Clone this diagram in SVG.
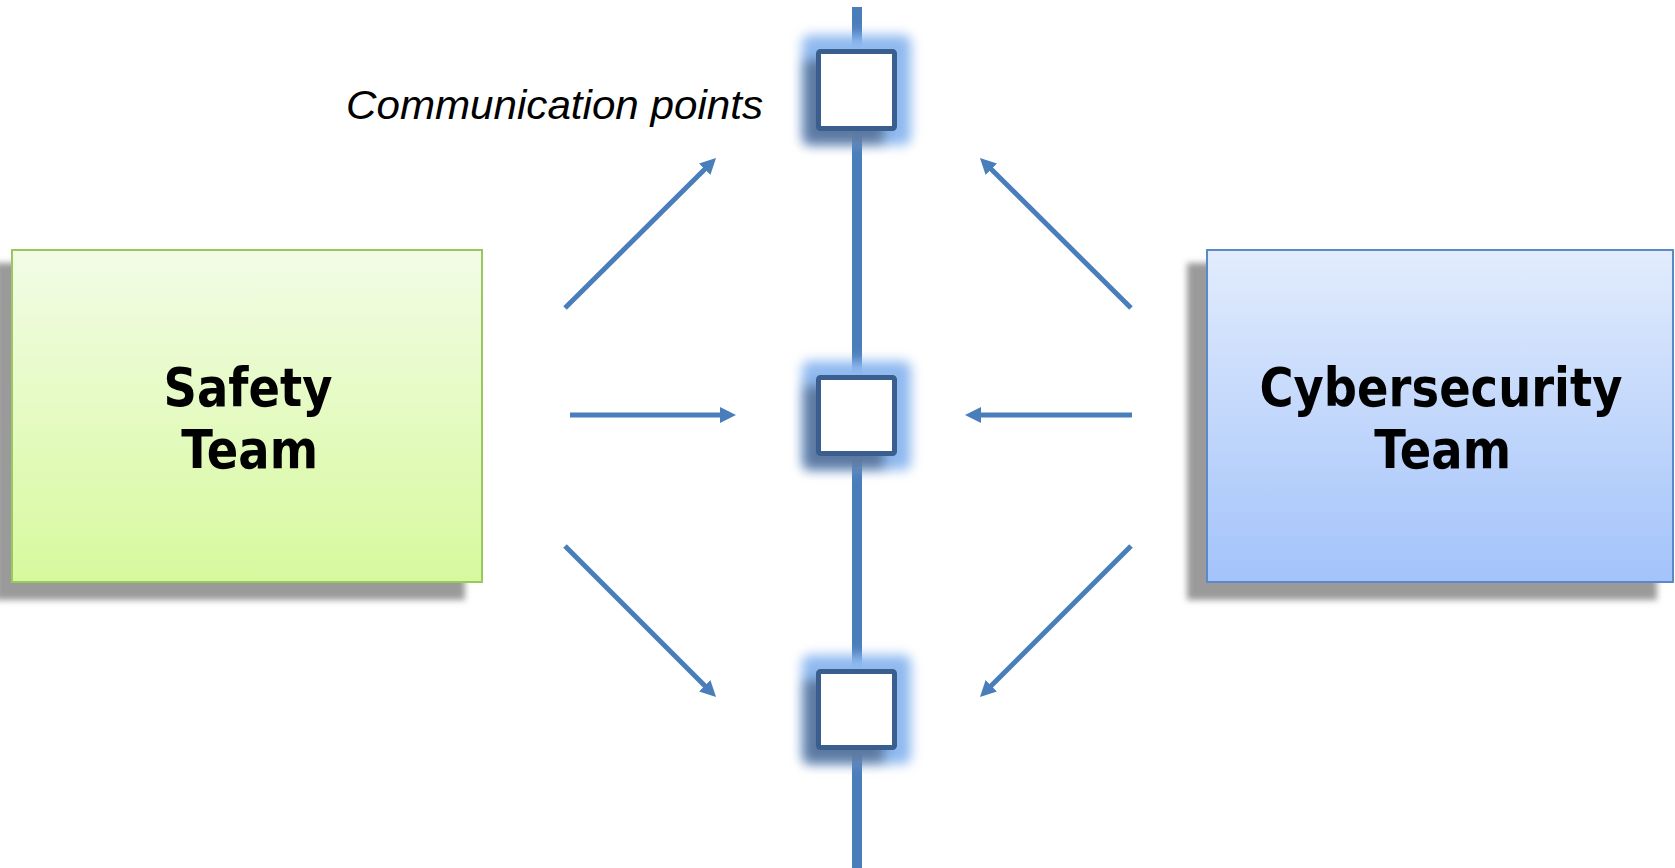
<svg xmlns="http://www.w3.org/2000/svg" width="1675" height="868" viewBox="0 0 1675 868">
  <defs>
    <linearGradient id="gradSafety" x1="0" y1="0" x2="0" y2="1">
      <stop offset="0" stop-color="#f2fce6"/>
      <stop offset="1" stop-color="#d7f99d"/>
    </linearGradient>
    <linearGradient id="gradCyber" x1="0" y1="0" x2="0" y2="1">
      <stop offset="0" stop-color="#e2ecfd"/>
      <stop offset="1" stop-color="#a3c3fa"/>
    </linearGradient>
    <filter id="softShadow" x="-10%" y="-10%" width="120%" height="120%">
      <feGaussianBlur stdDeviation="3"/>
    </filter>
    <filter id="glowBlur" x="-50%" y="-50%" width="200%" height="200%">
      <feGaussianBlur stdDeviation="6"/>
    </filter>
    <marker id="arrowHead" markerUnits="userSpaceOnUse" markerWidth="16" markerHeight="16" refX="10" refY="8" orient="auto">
      <path d="M0,0 L16,8 L0,16 Z" fill="#4a7ebb"/>
    </marker>
    <style>
      .team-shadow { fill: #9a9a9a; filter: url(#softShadow); }
      .team-label { font-family: "DejaVu Sans", Verdana, sans-serif; font-weight: bold; font-size: 54px; fill: #000; text-anchor: middle; }
      .note { font-family: "Liberation Sans", Arial, sans-serif; font-style: italic; font-size: 41px; fill: #000; }
      .arrow { stroke: #4a7ebb; stroke-width: 5; fill: none; marker-end: url(#arrowHead); }
      .timeline { stroke: #4a7ebb; stroke-width: 10; }
      .cp-glow { fill: #8fb9f0; filter: url(#glowBlur); }
      .cp-shadow { fill: #1a2a40; opacity: 0.45; filter: url(#glowBlur); }
      .cp-box { fill: #fff; stroke: #3a5f8e; stroke-width: 5; }
    </style>
  </defs>

  <rect width="1675" height="868" fill="#fff"/>

  <!-- Safety team -->
  <g id="safety-team">
    <rect class="team-shadow" x="-5" y="263" width="470" height="337"/>
    <rect x="12" y="250" width="470" height="332" fill="url(#gradSafety)" stroke="#9bc85e" stroke-width="2"/>
    <g transform="translate(248 0) scale(0.86 1)">
      <text class="team-label" x="0" y="406">Safety</text>
      <text class="team-label" x="2" y="468">Team</text>
    </g>
  </g>

  <!-- Cybersecurity team -->
  <g id="cybersecurity-team">
    <rect class="team-shadow" x="1187" y="263" width="470" height="337"/>
    <rect x="1207" y="250" width="466" height="332" fill="url(#gradCyber)" stroke="#5a88c8" stroke-width="2"/>
    <g transform="translate(1441 0) scale(0.86 1)">
      <text class="team-label" x="0" y="406">Cybersecurity</text>
      <text class="team-label" x="2" y="468">Team</text>
    </g>
  </g>

  <!-- Shared timeline -->
  <g id="timeline">
    <line class="timeline" x1="857" y1="7" x2="857" y2="868"/>
  </g>

  <!-- Communication points -->
  <g id="comm-point-1">
    <rect class="cp-glow" x="802" y="35" width="109" height="110" rx="8"/>
    <rect class="cp-shadow" x="804" y="60" width="80" height="84"/>
    <rect class="cp-box" x="818.5" y="51.5" width="76" height="77" rx="2"/>
  </g>
  <g id="comm-point-2">
    <rect class="cp-glow" x="802" y="361" width="109" height="109" rx="8"/>
    <rect class="cp-shadow" x="804" y="386" width="80" height="83"/>
    <rect class="cp-box" x="818.5" y="377.5" width="76" height="76" rx="2"/>
  </g>
  <g id="comm-point-3">
    <rect class="cp-glow" x="802" y="655" width="109" height="109" rx="8"/>
    <rect class="cp-shadow" x="804" y="680" width="80" height="83"/>
    <rect class="cp-box" x="818.5" y="671.5" width="76" height="76" rx="2"/>
  </g>

  <g id="comm-label">
    <text class="note" x="346" y="119" textLength="417" lengthAdjust="spacingAndGlyphs">Communication points</text>
  </g>

  <!-- Connectors -->
  <g id="connectors">
    <line class="arrow" x1="565" y1="308" x2="711.8" y2="162.2"/>
    <line class="arrow" x1="1131" y1="308" x2="984.2" y2="162.2"/>
    <line class="arrow" x1="570" y1="415" x2="730" y2="415"/>
    <line class="arrow" x1="1132" y1="415" x2="971" y2="415"/>
    <line class="arrow" x1="565" y1="546" x2="711.8" y2="692.8"/>
    <line class="arrow" x1="1131" y1="546" x2="984.2" y2="692.8"/>
  </g>
</svg>
